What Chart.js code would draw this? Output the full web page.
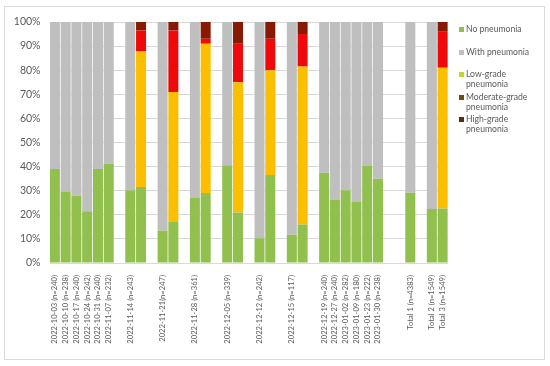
<!DOCTYPE html>
<html><head><meta charset="utf-8">
<script src="https://cdn.jsdelivr.net/npm/chart.js@4.4.0/dist/chart.umd.min.js"></script>
<style>
html,body{margin:0;padding:0;background:#fff;}
#wrap{position:relative;width:550px;height:366px;}
#frame{position:absolute;left:4px;top:6px;width:539px;height:352px;border:1px solid #d9d9d9;pointer-events:none;}
canvas{position:absolute;left:0;top:0;}
.lg{position:absolute;left:459px;font-family:Lato, sans-serif;font-size:8.6px;line-height:10px;color:#595959;white-space:nowrap;}
.lg i{position:absolute;left:0;top:2.5px;width:5px;height:5px;}
.lg span{display:block;padding-left:7px;}
</style>
</head><body>
<div id="wrap"><canvas id="c" width="550" height="366"></canvas><div id="frame"></div></div>
<script>
const categories = [
"2022-10-03 (n=240)","2022-10-10 (n=238)","2022-10-17 (n=240)","2022-10-24 (n=242)","2022-10-31 (n=240)","2022-11-07 (n=232)","",
"2022-11-14 (n=243)","","",
"2022-11-21(n=247)","","",
"2022-11-28 (n=361)","","",
"2022-12-05 (n=339)","","",
"2022-12-12 (n=242)","","",
"2022-12-15 (n=117)","","",
"2022-12-19 (n=240)","2022-12-27 (n=240)","2023-01-02 (n=282)","2023-01-09 (n=180)","2023-01-23 (n=222)","2023-01-30 (n=238)","","",
"Total 1 (n=4383)","",
"Total 2 (n=1549)","Total 3 (n=1549)"];

const noPneumonia = [39,29.5,28,21.5,39,41.3,null, 30.2,31.5,null, 13.5,17,null, 27,29,null, 40.6,21,null, 10.3,36.5,null, 11.7,16,null, 37.4,26.3,30.2,25.3,40.2,35,null,null, 29.2,null, 22.4,22.6];
const withPneumonia = [61,70.5,72,78.5,61,58.7,null, 69.8,null,null, 86.5,null,null, 73,null,null, 59.4,null,null, 89.7,null,null, 88.3,null,null, 62.6,73.7,69.8,74.7,59.8,65,null,null, 70.8,null, 77.6,null];
const lowGrade = [null,null,null,null,null,null,null, null,56.5,null, null,54,null, null,62,null, null,54,null, null,43.5,null, null,65.5,null, null,null,null,null,null,null,null,null, null,null, null,58.4];
const moderateGrade = [null,null,null,null,null,null,null, null,8.5,null, null,25.5,null, null,2,null, null,16,null, null,13,null, null,13.5,null, null,null,null,null,null,null,null,null, null,null, null,15];
const highGrade = [null,null,null,null,null,null,null, null,3.5,null, null,3.5,null, null,7,null, null,9,null, null,7,null, null,5,null, null,null,null,null,null,null,null,null, null,null, null,4];
const yTicks = [0,10,20,30,40,50,60,70,80,90,100];

const seriesNames = ["No pneumonia","With pneumonia","Low-grade pneumonia","Moderate-grade pneumonia","High-grade pneumonia"];
const legendLines = [["No pneumonia"],["With pneumonia"],["Low-grade","pneumonia"],["Moderate-grade","pneumonia"],["High-grade","pneumonia"]];

// styles
const barColors = ["#92c04f","#bfbfbf","#fbbf00","#ee0a0a","#861a04"];
const legendColors = ["#92c04f","#bfbfbf","#c3d52e","#6b4c12","#5a2d0c"];
const legendTops = [24,47,69,92,114];

const series = [noPneumonia, withPneumonia, lowGrade, moderateGrade, highGrade];
const datasets = series.map((d,i)=>({
  label: seriesNames[i], data: d, backgroundColor: barColors[i],
  barPercentage: 0.93, categoryPercentage: 1.0, borderWidth: 0
}));

new Chart(document.getElementById('c'), {
  type: 'bar',
  data: { labels: categories, datasets },
  options: {
    responsive: false, animation: false,
    layout: { padding: { left: 0, top: 22, right: 102, bottom: 0 } },
    plugins: { legend: { display: false }, tooltip: { enabled: false } },
    scales: {
      x: {
        stacked: true,
        grid: { display: false },
        border: { display: false },
        ticks: { autoSkip: false, minRotation: 90, maxRotation: 90, padding: 4,
          color: '#595959', font: { family: 'Lato', size: 7.6 } },
        afterFit: s => { s.height = 103; }
      },
      y: {
        stacked: true, min: 0, max: 100,
        afterBuildTicks: s => { s.ticks = yTicks.map(v => ({ value: v })); },
        grid: { color: '#d9d9d9', drawTicks: false, lineWidth: 1 },
        border: { display: false },
        ticks: { padding: 9, color: '#595959', font: { family: 'Lato', size: 10.5 }, callback: v => v + '%' },
        afterFit: s => { s.width = 49.5; }
      }
    }
  }
});

const wrap = document.getElementById('wrap');
legendLines.forEach((lines, i) => {
  const d = document.createElement('div');
  d.className = 'lg';
  d.style.top = legendTops[i] + 'px';
  const sw = document.createElement('i');
  sw.style.background = legendColors[i];
  d.appendChild(sw);
  lines.forEach(t => { const s = document.createElement('span'); s.textContent = t; d.appendChild(s); });
  wrap.appendChild(d);
});
</script>
</body></html>
